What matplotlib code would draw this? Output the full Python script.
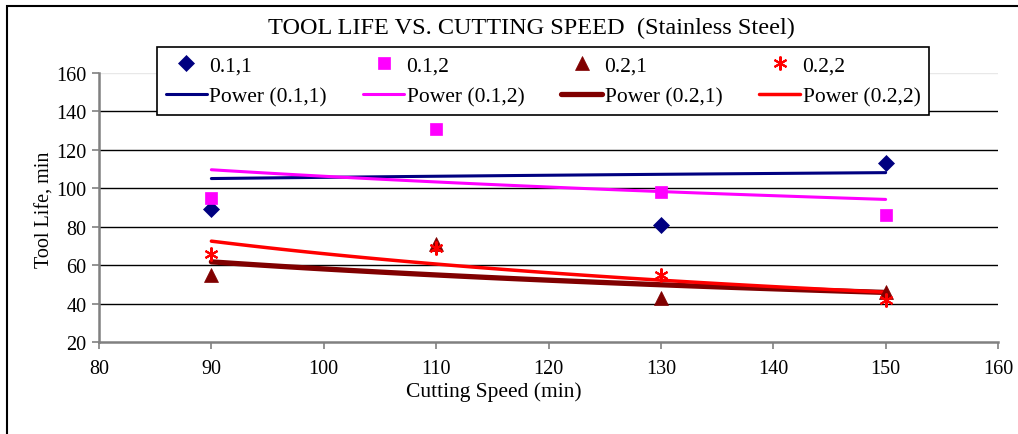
import numpy as np
import matplotlib
matplotlib.use("Agg")
import matplotlib.pyplot as plt
from matplotlib.patches import Rectangle

plt.rcParams['font.family'] = ['Liberation Serif', 'DejaVu Serif']

# data (x = cutting speed, y = tool life)
speed = [90, 110, 130, 150]
life_01_1 = [89, 159, 81, 113]   # point at 110 sits behind the legend
life_01_2 = [95, 131, 98, 86]
life_02_1 = [55, 71, 43, 46]
life_02_2 = [66, 69, 55, 42]

series_names = ["0.1,1", "0.1,2", "0.2,1", "0.2,2"]
colors = ["#000080", "#FF00FF", "#800000", "#FF0000"]
markers = ["D", "s", "^", (6, 2, 0)]
msizes = [8, 8.5, 10, 10]
trend_lw = [2.2, 2.2, 3.8, 2.5]

fig = plt.figure(figsize=(10.18, 4.35), dpi=100)
ax = fig.add_axes([99/1018, 1-343/435, (998-99)/1018, (343-74)/435])

def power_fit(x, y):
    b, a = np.polyfit(np.log(x), np.log(y), 1)
    xs = np.linspace(min(x), max(x), 50)
    return xs, np.exp(a) * xs ** b

all_life = [life_01_1, life_01_2, life_02_1, life_02_2]
mk_handles = []
ln_handles = []
for i, y in enumerate(all_life):
    xs, ys = power_fit(np.array(speed, float), np.array(y, float))
    l, = ax.plot(xs, ys, color=colors[i], lw=trend_lw[i], zorder=3,
                 solid_capstyle='round', label="Power (" + series_names[i] + ")")
    m, = ax.plot(speed, y, linestyle='none', marker=markers[i], ms=msizes[i],
                 color=colors[i], mec=colors[i], mew=1.5 if i == 3 else 0.5,
                 zorder=4, label=series_names[i])
    mk_handles.append(m)
    ln_handles.append(l)

ax.set_xlim(80, 160)
ax.set_ylim(20, 160)
ax.set_xticks(range(80, 161, 10))
ax.set_yticks(range(20, 161, 20))
ax.tick_params(labelsize=14.5, direction='out', length=5, width=1.2, color='#808080')
ax.tick_params(axis='x', pad=7)
ax.tick_params(axis='y', pad=4)
for s in ['top', 'right']:
    ax.spines[s].set_visible(False)
for s in ['left', 'bottom']:
    ax.spines[s].set_color('#808080')
    ax.spines[s].set_linewidth(1.8)

ax.yaxis.grid(True, color='black', lw=1.0)
ax.set_axisbelow(True)
ax.get_ygridlines()[-1].set_color('#e8e8e8')
ax.get_ygridlines()[0].set_visible(False)

# legend: markers on first row, trend lines on second
handles = []
for m, l in zip(mk_handles, ln_handles):
    handles += [m, l]
leg = fig.legend(handles, [h.get_label() for h in handles], ncol=4,
                 loc='upper left', mode='expand',
                 bbox_to_anchor=(157/1018, 1-48/435, (929-157)/1018, 0.0),
                 bbox_transform=fig.transFigure, fontsize=15.5,
                 frameon=True, fancybox=False, edgecolor='black',
                 handlelength=1.9, handletextpad=0.1, labelspacing=0.5,
                 borderpad=0.4, borderaxespad=0, columnspacing=0.5)
leg.get_frame().set_linewidth(1.2)
leg.get_frame().set_alpha(1)

fig.text(531/1018, 1-28/435, "TOOL LIFE VS. CUTTING SPEED  (Stainless Steel)",
         ha='center', va='center', fontsize=17.5)
fig.text(494/1018, 1-392/435, "Cutting Speed (min)", ha='center', va='center', fontsize=15.5)
fig.text(45/1018, 1-210/435, "Tool Life, min", ha='center', va='center',
         rotation=90, fontsize=14.5)

fig.patches.append(Rectangle((7/1018, -0.1), 1.2, 1-7/435+0.1,
                             transform=fig.transFigure, fill=False,
                             ec='black', lw=1.5))

fig.savefig("out.png", dpi=100)
